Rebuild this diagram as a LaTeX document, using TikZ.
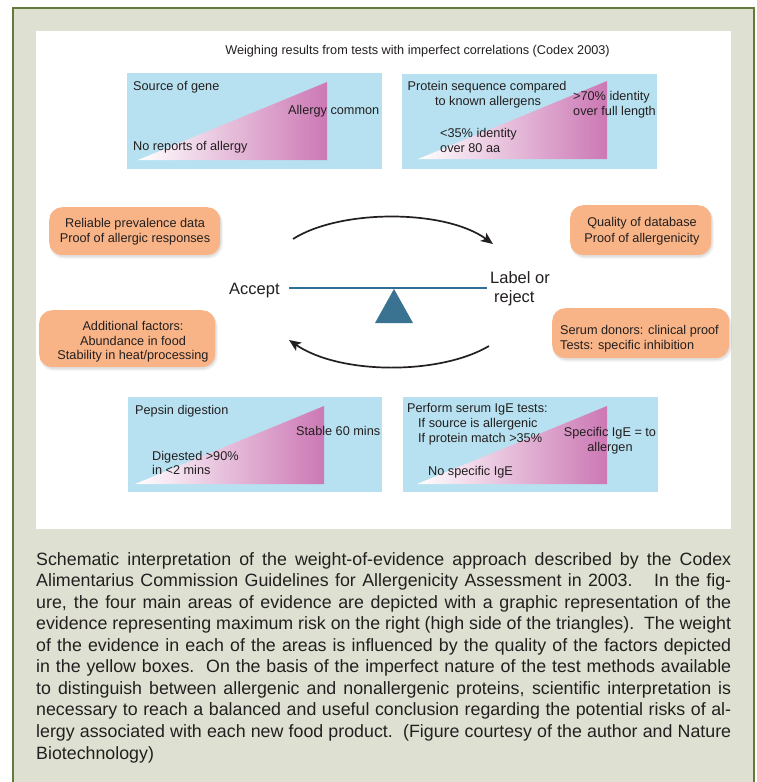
\documentclass[tikz,border=0pt]{standalone}
\usepackage{fontspec}
\setmainfont{Liberation Sans}
\usetikzlibrary{arrows.meta}
\definecolor{framebg}{RGB}{222,225,209}
\definecolor{frameline}{RGB}{100,121,58}
\definecolor{boxblue}{RGB}{183,225,240}
\definecolor{tripink}{RGB}{204,120,180}
\definecolor{boxorange}{RGB}{248,180,134}
\definecolor{beamblue}{RGB}{47,111,150}
\definecolor{fulcrumblue}{RGB}{58,114,146}
\definecolor{ink}{RGB}{35,31,32}
\newcommand{\cptline}[1]{\hbox to 695pt{#1}}
\begin{document}
\begin{tikzpicture}[x=1pt,y=-1pt,
  lbl/.style={inner sep=0pt, text=ink, font=\fontsize{12.7}{15}\selectfont},
  lblw/.style={lbl, anchor=base west},
  lblc/.style={lbl, anchor=base},
  big/.style={inner sep=0pt, text=ink, font=\fontsize{16.5}{19}\selectfont, anchor=base west},
  bluebox/.style={fill=boxblue, draw=none, inner sep=0pt, anchor=north west},
  orangebox/.style={fill=boxorange, draw=none, rounded corners=13pt, inner sep=0pt, anchor=north west},
  shadowbox/.style={black, opacity=0.06, rounded corners=14pt},
  tri/.style={left color=white, right color=tripink},
  arr/.style={line width=1.7pt, ink, -{Stealth[length=12pt,width=10pt,inset=3pt]}},
  beam/.style={line width=1.6pt, beamblue},
]
\useasboundingbox (0,0) rectangle (756,782);
\fill[white] (0,0) rectangle (756,782);
% outer frame
\fill[framebg] (13,8) rectangle (754,800);
\draw[frameline, line width=1.5pt] (13,800) -- (13,8) -- (754,8) -- (754,800);
% white panel
\fill[white] (36,31) rectangle (731,529);

% title
\node[lblc] (title) at (417.5,54) {Weighing results from tests with imperfect correlations (Codex 2003)};

% blue boxes
\node[bluebox, minimum width=255pt, minimum height=96pt] (b1) at (127,73) {};
\node[bluebox, minimum width=255pt, minimum height=95pt] (b2) at (402,74) {};
\node[bluebox, minimum width=254pt, minimum height=95pt] (b3) at (128,397) {};
\node[bluebox, minimum width=255pt, minimum height=95pt] (b4) at (403,397) {};

% gradient triangles
\shade[tri] (138,160) -- (327,82) -- (327,160) -- cycle;
\shade[tri] (418,159) -- (607,81) -- (607,159) -- cycle;
\shade[tri] (135,484) -- (324,406) -- (324,484) -- cycle;
\shade[tri] (417,484) -- (607,406) -- (607,484) -- cycle;

% box 1 texts
\node[lblw] (s1) at (133,90) {Source of gene};
\node[lblw] (s2) at (288,114) {Allergy common};
\node[lblw] (s3) at (133,150) {No reports of allergy};
% box 2 texts
\node[lblc] (p1) at (487,90) {Protein sequence compared};
\node[lblc] (p2) at (488,105) {to known allergens};
\node[lblw] (p3) at (573,100) {>70\% identity};
\node[lblw] (p4) at (573,115) {over full length};
\node[lblw] (p5) at (440,137) {<35\% identity};
\node[lblw] (p6) at (440,152) {over 80 aa};
% box 3 texts
\node[lblw] (d1) at (135,414) {Pepsin digestion};
\node[lblw] (d2) at (296,435) {Stable 60 mins};
\node[lblw] (d3) at (152,460) {Digested >90\%};
\node[lblw] (d4) at (152,474.5) {in <2 mins};
% box 4 texts
\node[lblw] (e1) at (407,412.7) {Perform serum IgE tests:};
\node[lblw] (e2) at (418,427.7) {If source is allergenic};
\node[lblw] (e3) at (418,442.7) {If protein match >35\%};
\node[lblc] (e4) at (610,436.7) {Specific IgE = to};
\node[lblc] (e5) at (610,451) {allergen};
\node[lblw] (e6) at (428,475) {No specific IgE};

% orange boxes (soft shadows first)
\fill[shadowbox] (49.5,209) rectangle (222.5,258.5);
\fill[shadowbox] (570.5,207) rectangle (713.5,258.5);
\fill[shadowbox] (39.5,312) rectangle (217.5,370.5);
\fill[shadowbox] (552.5,310) rectangle (731.5,361.5);
\fill[shadowbox] (50,208) rectangle (221.5,257);
\fill[shadowbox] (571,206) rectangle (712.5,257);
\fill[shadowbox] (40,311) rectangle (216.5,369);
\fill[shadowbox] (553,309) rectangle (730.5,360);
\node[orangebox, minimum width=171pt, minimum height=48pt] (o1) at (49,207) {};
\node[orangebox, minimum width=141pt, minimum height=50pt] (o2) at (570,205) {};
\node[orangebox, minimum width=176pt, minimum height=57pt] (o3) at (39,310) {};
\node[orangebox, minimum width=177pt, minimum height=50pt] (o4) at (552,308) {};

\node[lblc] (r1) at (135,227.7) {Reliable prevalence data};
\node[lblc] (r2) at (135,242.7) {Proof of allergic responses};
\node[lblc] (q1) at (642,226.7) {Quality of database};
\node[lblc] (q2) at (642,242.7) {Proof of allergenicity};
\node[lblc] (a1) at (133,330) {Additional factors:};
\node[lblc] (a2) at (133,345) {Abundance in food};
\node[lblc] (a3) at (133,359.5) {Stability in heat/processing};
\node[lblw] (c1) at (560,334.3) {Serum donors: clinical proof};
\node[lblw] (c2) at (560,349.3) {Tests: specific inhibition};

% balance
\node[big] (accept) at (229,294) {Accept};
\node[big] (label1) at (490,283) {Label or};
\node[big] (label2) at (494,302) {reject};
\coordinate (beamL) at (289,288);
\coordinate (beamR) at (487,288);
\draw[beam] (beamL) -- (beamR);
\coordinate (fulA) at (394,289);
\coordinate (fulB) at (413,323);
\coordinate (fulC) at (375,323);
\fill[fulcrumblue] (fulA) -- (fulB) -- (fulC) -- cycle;

% arrows
\coordinate (ta) at (293,239);
\coordinate (tb) at (493,244);
\draw[arr] (ta) .. controls (340,209) and (445,209) .. (tb);
\coordinate (ba) at (489,346);
\coordinate (bb) at (289,340);
\draw[arr] (ba) .. controls (440,375) and (340,375) .. (bb);

% caption
\node[inner sep=0pt, anchor=base west, text=ink] (caption) at (36,565) {\fontsize{17.8}{21.56}\selectfont\vtop{\baselineskip=21.56pt
\cptline{Schematic interpretation of the weight-of-evidence approach described by the Codex}
\cptline{Alimentarius Commission Guidelines for Allergenicity Assessment in 2003.\hspace{0.6em} In the fig-}
\cptline{ure, the four main areas of evidence are depicted with a graphic representation of the}
\cptline{evidence representing maximum risk on the right (high side of the triangles).\ \ The weight}
\cptline{of the evidence in each of the areas is influenced by the quality of the factors depicted}
\cptline{in the yellow boxes.\ \ On the basis of the imperfect nature of the test methods available}
\cptline{to distinguish between allergenic and nonallergenic proteins, scientific interpretation is}
\cptline{necessary to reach a balanced and useful conclusion regarding the potential risks of al-}
\cptline{lergy associated with each new food product.\ \ (Figure courtesy of the author and Nature}
\hbox{Biotechnology)}}};
\end{tikzpicture}
\end{document}
